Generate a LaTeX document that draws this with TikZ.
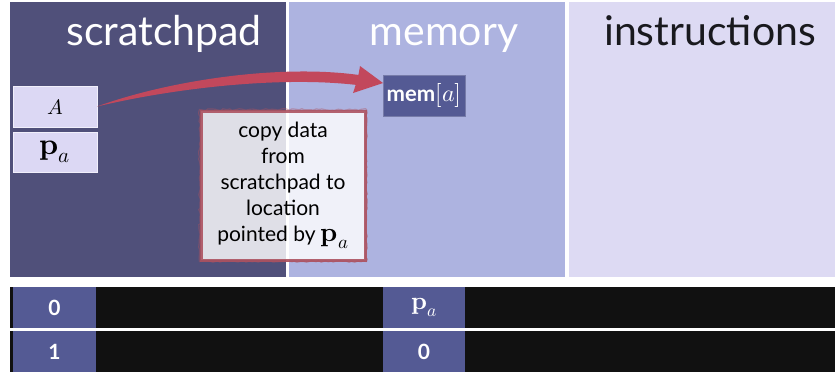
\documentclass[tikz,border=0pt]{standalone}
\usepackage{fontspec}
\usepackage{unicode-math}
\setmainfont{Lato}
\setmathfont{Latin Modern Math}
\usetikzlibrary{calc,decorations.pathmorphing}
\newcommand\Pav[1]{{\fontsize{#1}{#1}\selectfont$\symbf{p}_{a}$}}
\definecolor{spc}{RGB}{80,80,122}
\definecolor{memc}{RGB}{173,179,224}
\definecolor{insc}{RGB}{221,218,243}
\definecolor{boxc}{RGB}{220,216,244}
\definecolor{blueb}{RGB}{84,90,148}
\definecolor{barc}{RGB}{17,17,17}
\definecolor{arrowred}{RGB}{194,72,92}
\definecolor{copyred}{RGB}{172,82,96}
\definecolor{titledark}{RGB}{25,25,30}
\tikzset{
  panel/.style={anchor=north west, inner sep=0pt, outer sep=0pt, draw=none, minimum height=275pt},
  title/.style={anchor=base, font=\fontsize{41}{44}\selectfont},
  regbox/.style={anchor=north west, inner sep=0pt, outer sep=0pt, fill=boxc, draw=white!60!boxc, line width=0.8pt, minimum width=84pt, font=\fontsize{21}{22}\selectfont},
  bar/.style={anchor=north west, inner sep=0pt, outer sep=0pt, fill=barc, minimum width=825pt, minimum height=41pt},
  cell/.style={anchor=north west, inner sep=0pt, outer sep=0pt, fill=blueb, minimum height=41pt, text=white, font=\bfseries\fontsize{21}{22}\selectfont},
}
\begin{document}
\begin{tikzpicture}[x=1pt,y=-1pt]
\useasboundingbox (0,0) rectangle (835,375);
\fill[white] (0,0) rectangle (835,375);
% panels
\node[panel, fill=spc, minimum width=276pt] (sp) at (10,2) {};
\node[panel, fill=memc, minimum width=276pt] (mem) at (289,2) {};
\node[panel, fill=insc, minimum width=266pt] (ins) at (569,2) {};
% titles
\node[title, text=white] (spt) at (164,45) {scratchpad};
\node[title, text=white] (memt) at (444,45) {memory};
\node[title, text=titledark] (inst) at (710,45) {instructions};
% registers
\node[regbox, minimum height=41pt] (A) at (13,86) {$A$};
\node[regbox, minimum height=40pt] (pa) at (13,132) {\Pav{30}};
% memory cell
\node[anchor=north west, inner sep=0pt, outer sep=0pt, fill=blueb, draw=blueb!80!white, line width=0.6pt, minimum width=82pt, minimum height=41pt, text=white, font=\fontsize{22}{24}\selectfont] (memA) at (383,75) {\textbf{mem}{\fontsize{24}{24}\selectfont$[a]$}};
% arrow
\coordinate (tip) at ($(memA.north west)+(0,8)$);
\fill[arrowred] (A.east) .. controls (170,80) and (280,64) .. (359,75)
  -- (357,85) .. controls (280,76) and (175,88) .. (A.east) -- cycle;
\fill[arrowred] (tip) -- (360,66) .. controls (358,78) .. (353,93) -- cycle;
% note box
\node[anchor=north west, draw=copyred, draw opacity=0.9, line width=3pt, fill=white, fill opacity=0.82, text opacity=1, minimum width=164pt, minimum height=149pt, inner sep=0pt, align=center, font=\fontsize{21}{26}\selectfont, text=black] (copy) at (199.5,109.5) {copy data\\from\\scratchpad to\\location\\pointed by \Pav{27}};
\draw[copyred, opacity=0.45, line width=1.2pt, decorate, decoration={random steps, segment length=3pt, amplitude=0.9pt}]
  (copy.north west) -- (copy.north east) -- (copy.south east) -- (copy.south west) -- cycle;
% bottom rows
\node[bar] (bar1) at (10,287) {};
\node[bar] (bar2) at (10,331) {};
\node[cell, minimum width=83pt] (c10) at (13,287) {0};
\node[cell, minimum width=82pt] (c1p) at (383,287) {\Pav{25}};
\node[cell, minimum width=83pt] (c20) at (13,331) {1};
\node[cell, minimum width=82pt] (c2p) at (383,331) {0};
\end{tikzpicture}
\end{document}
